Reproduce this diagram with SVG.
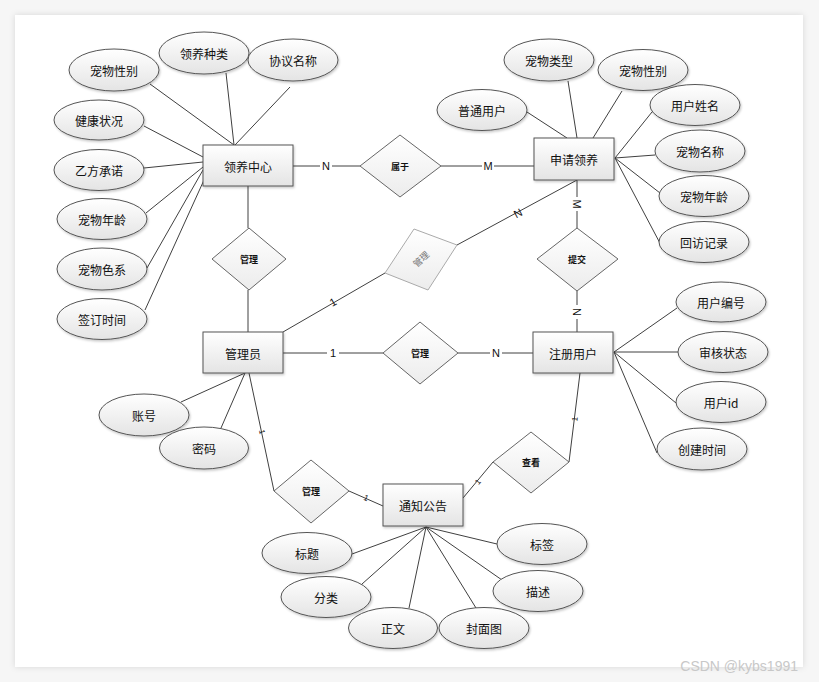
<svg xmlns="http://www.w3.org/2000/svg" width="819" height="682" viewBox="0 0 819 682">
<defs>
<linearGradient id="g" x1="0" y1="0" x2="0" y2="1"><stop offset="0" stop-color="#ffffff"/><stop offset="1" stop-color="#e4e4e4"/></linearGradient>
<linearGradient id="gl" x1="0" y1="0" x2="0" y2="1"><stop offset="0" stop-color="#ffffff"/><stop offset="1" stop-color="#ececec"/></linearGradient>
<filter id="sh" x="-10%" y="-10%" width="130%" height="130%"><feDropShadow dx="1" dy="1.5" stdDeviation="0.8" flood-color="#000" flood-opacity="0.22"/></filter>
<filter id="cs" x="-5%" y="-5%" width="110%" height="110%"><feDropShadow dx="0" dy="0" stdDeviation="3" flood-color="#000" flood-opacity="0.12"/></filter>
<style>
.e{fill:url(#g);stroke:#555;stroke-width:1;filter:url(#sh)}
.r{fill:url(#g);stroke:#555;stroke-width:1;filter:url(#sh)}
.d{fill:url(#gl);stroke:#666;stroke-width:1}
.dg{fill:url(#gl);stroke:#aaa;stroke-width:1}
.t{font-family:"Noto Sans CJK SC","Liberation Sans",sans-serif;font-size:12px;fill:#111;text-anchor:middle;dominant-baseline:central}
.tr{font-family:"Noto Sans CJK SC","Liberation Sans",sans-serif;font-size:9px;font-weight:bold;fill:#111;text-anchor:middle;dominant-baseline:central}
.l{font-family:"Liberation Sans",sans-serif;font-size:11px;fill:#111;text-anchor:middle;dominant-baseline:central}
.s{font-family:"Liberation Sans",sans-serif;font-size:8px;fill:#111;text-anchor:middle;dominant-baseline:central}
.c line,.c polyline{stroke:#404040;stroke-width:1;fill:none}
.lb{fill:#fff}
</style>
</defs>
<rect x="0" y="0" width="819" height="682" fill="#f6f6f6"/>
<rect x="15" y="15" width="788" height="652" fill="#ffffff" filter="url(#cs)"/>

<g class="c" id="connectors">
<line x1="150" y1="84" x2="234" y2="145"/>
<line x1="226" y1="73" x2="234" y2="145"/>
<line x1="290" y1="87" x2="235" y2="145"/>
<line x1="144" y1="126" x2="203" y2="157"/>
<line x1="144" y1="168" x2="203" y2="162"/>
<line x1="146" y1="213" x2="203" y2="167"/>
<line x1="147" y1="268" x2="203" y2="170"/>
<line x1="145" y1="310" x2="204" y2="180"/>
<line x1="293" y1="166" x2="360" y2="166"/>
<line x1="441" y1="166" x2="534" y2="166"/>
<line x1="248" y1="186" x2="248" y2="228"/>
<line x1="248" y1="290" x2="248" y2="332"/>
<line x1="283" y1="332" x2="385" y2="273"/>
<line x1="457" y1="245" x2="577" y2="180"/>
<line x1="577" y1="180" x2="577" y2="228"/>
<line x1="577" y1="291" x2="577" y2="332"/>
<line x1="283" y1="353" x2="383" y2="353"/>
<line x1="458" y1="353" x2="533" y2="353"/>
<line x1="527" y1="112" x2="567" y2="138"/>
<line x1="568" y1="81" x2="577" y2="138"/>
<line x1="622" y1="91" x2="593" y2="138"/>
<line x1="652" y1="112" x2="615" y2="158"/>
<line x1="655" y1="155" x2="615" y2="158"/>
<line x1="660" y1="193" x2="615" y2="158"/>
<line x1="662" y1="247" x2="615" y2="158"/>
<line x1="677" y1="308" x2="614" y2="352"/>
<line x1="678" y1="352" x2="614" y2="352"/>
<line x1="676" y1="403" x2="614" y2="352"/>
<line x1="657" y1="453" x2="614" y2="352"/>
<line x1="181" y1="402" x2="245" y2="373"/>
<line x1="221" y1="428" x2="245" y2="373"/>
<line x1="249" y1="373" x2="274" y2="491"/>
<line x1="349" y1="491" x2="383" y2="506"/>
<line x1="463" y1="498" x2="493" y2="462"/>
<line x1="569" y1="462" x2="580" y2="373"/>
<line x1="426" y1="527" x2="352" y2="554"/>
<line x1="426" y1="527" x2="362" y2="584"/>
<line x1="426" y1="527" x2="409" y2="608"/>
<line x1="426" y1="527" x2="476" y2="608"/>
<line x1="426" y1="527" x2="502" y2="580"/>
<line x1="426" y1="527" x2="497" y2="544"/>
<rect class="lb" x="320" y="159" width="12" height="14"/><text class="l" x="326" y="166">N</text>
<rect class="lb" x="482" y="159" width="12" height="14"/><text class="l" x="488" y="166">M</text>
<rect class="lb" x="327" y="346" width="12" height="14"/><text class="l" x="333" y="353">1</text>
<rect class="lb" x="490" y="346" width="12" height="14"/><text class="l" x="496" y="353">N</text>
<text class="l" x="333" y="302" transform="rotate(-30 333 302)">1</text>
<text class="l" x="518" y="213" transform="rotate(-28 518 213)">N</text>
<rect class="lb" x="571" y="197" width="12" height="14"/><text class="l" x="577" y="204" transform="rotate(90 577 204)">M</text>
<rect class="lb" x="571" y="305" width="12" height="14"/><text class="l" x="577" y="312" transform="rotate(90 577 312)">N</text>
<text class="s" x="262" y="432" transform="rotate(78 262 432)">1</text>
<text class="s" x="366" y="498" transform="rotate(24 366 498)">1</text>
<text class="s" x="478" y="482" transform="rotate(-50 478 482)">1</text>
<text class="s" x="575" y="419" transform="rotate(-83 575 419)">1</text>
</g>

<g id="n-lyzx"><rect class="r" x="203" y="145" width="90" height="41"/><text class="t" x="248" y="166">领养中心</text></g>
<g id="n-sqly"><rect class="r" x="534" y="138" width="80" height="42"/><text class="t" x="574" y="159">申请领养</text></g>
<g id="n-gly"><rect class="r" x="203" y="332" width="80" height="41"/><text class="t" x="243" y="353">管理员</text></g>
<g id="n-zcyh"><rect class="r" x="533" y="332" width="80" height="41"/><text class="t" x="573" y="353">注册用户</text></g>
<g id="n-tzgg"><rect class="r" x="383" y="484" width="80" height="42"/><text class="t" x="423" y="505">通知公告</text></g>

<g id="r-sy"><polygon class="d" points="360,166 400,135 441,166 400,197"/><text class="tr" x="400" y="166">属于</text></g>
<g id="r-gl1"><polygon class="d" points="212,259 249,228 286,259 249,290"/><text class="tr" x="249" y="259">管理</text></g>
<g id="r-gl2"><polygon class="dg" points="385,273 414,229 457,245 428,290"/><text class="tr" x="421" y="259" style="fill:#777;font-weight:normal" transform="rotate(-42 421 259)">管理</text></g>
<g id="r-tj"><polygon class="d" points="537,259 577,228 618,259 577,291"/><text class="tr" x="577" y="259">提交</text></g>
<g id="r-gl3"><polygon class="d" points="383,353 420,322 458,353 420,384"/><text class="tr" x="420" y="353">管理</text></g>
<g id="r-gl4"><polygon class="d" points="274,491 311,460 349,491 311,523"/><text class="tr" x="311" y="491">管理</text></g>
<g id="r-ck"><polygon class="d" points="493,462 531,432 569,462 531,493"/><text class="tr" x="531" y="462">查看</text></g>

<g id="a1"><ellipse class="e" cx="114" cy="70" rx="45" ry="21"/><text class="t" x="114" y="70">宠物性别</text></g>
<g id="a2"><ellipse class="e" cx="204" cy="53" rx="45" ry="21"/><text class="t" x="204" y="53">领养种类</text></g>
<g id="a3"><ellipse class="e" cx="293" cy="60" rx="45" ry="21"/><text class="t" x="293" y="60">协议名称</text></g>
<g id="a4"><ellipse class="e" cx="99" cy="120" rx="45" ry="20"/><text class="t" x="99" y="120">健康状况</text></g>
<g id="a5"><ellipse class="e" cx="99" cy="170" rx="45" ry="20.5"/><text class="t" x="99" y="170">乙方承诺</text></g>
<g id="a6"><ellipse class="e" cx="102" cy="219" rx="45" ry="20.5"/><text class="t" x="102" y="219">宠物年龄</text></g>
<g id="a7"><ellipse class="e" cx="102" cy="269" rx="45" ry="21"/><text class="t" x="102" y="269">宠物色系</text></g>
<g id="a8"><ellipse class="e" cx="102" cy="319" rx="45" ry="20.5"/><text class="t" x="102" y="319">签订时间</text></g>

<g id="b1"><ellipse class="e" cx="482" cy="110" rx="45" ry="20.5"/><text class="t" x="482" y="110">普通用户</text></g>
<g id="b2"><ellipse class="e" cx="549" cy="60" rx="45" ry="21"/><text class="t" x="549" y="60">宠物类型</text></g>
<g id="b3"><ellipse class="e" cx="643" cy="70" rx="45" ry="20.5"/><text class="t" x="643" y="70">宠物性别</text></g>
<g id="b4"><ellipse class="e" cx="695" cy="105" rx="45" ry="20.5"/><text class="t" x="695" y="105">用户姓名</text></g>
<g id="b5"><ellipse class="e" cx="700" cy="151" rx="45" ry="21"/><text class="t" x="700" y="151">宠物名称</text></g>
<g id="b6"><ellipse class="e" cx="704" cy="196" rx="45" ry="20.5"/><text class="t" x="704" y="196">宠物年龄</text></g>
<g id="b7"><ellipse class="e" cx="704" cy="242" rx="45" ry="20.5"/><text class="t" x="704" y="242">回访记录</text></g>

<g id="c1"><ellipse class="e" cx="721" cy="302" rx="45" ry="20"/><text class="t" x="721" y="302">用户编号</text></g>
<g id="c2"><ellipse class="e" cx="723" cy="352" rx="45" ry="20.5"/><text class="t" x="723" y="352">审核状态</text></g>
<g id="c3"><ellipse class="e" cx="721" cy="402" rx="45" ry="20.5"/><text class="t" x="721" y="402">用户id</text></g>
<g id="c4"><ellipse class="e" cx="702" cy="449" rx="45" ry="21"/><text class="t" x="702" y="449">创建时间</text></g>

<g id="d1"><ellipse class="e" cx="144" cy="415" rx="45" ry="21"/><text class="t" x="144" y="415">账号</text></g>
<g id="d2"><ellipse class="e" cx="204" cy="448" rx="44.5" ry="21"/><text class="t" x="204" y="448">密码</text></g>

<g id="e1"><ellipse class="e" cx="307" cy="553" rx="45" ry="20.5"/><text class="t" x="307" y="553">标题</text></g>
<g id="e2"><ellipse class="e" cx="326" cy="597" rx="45" ry="20.5"/><text class="t" x="326" y="597">分类</text></g>
<g id="e3"><ellipse class="e" cx="393" cy="628" rx="44.5" ry="20.5"/><text class="t" x="393" y="628">正文</text></g>
<g id="e4"><ellipse class="e" cx="484" cy="628" rx="45" ry="20.5"/><text class="t" x="484" y="628">封面图</text></g>
<g id="e5"><ellipse class="e" cx="538" cy="591" rx="45" ry="20.5"/><text class="t" x="538" y="591">描述</text></g>
<g id="e6"><ellipse class="e" cx="542" cy="544" rx="45" ry="20.5"/><text class="t" x="542" y="544">标签</text></g>

<text x="798" y="666" font-family="Liberation Sans,sans-serif" font-size="14" fill="#c8c8c8" text-anchor="end" dominant-baseline="central">CSDN @kybs1991</text>
</svg>
